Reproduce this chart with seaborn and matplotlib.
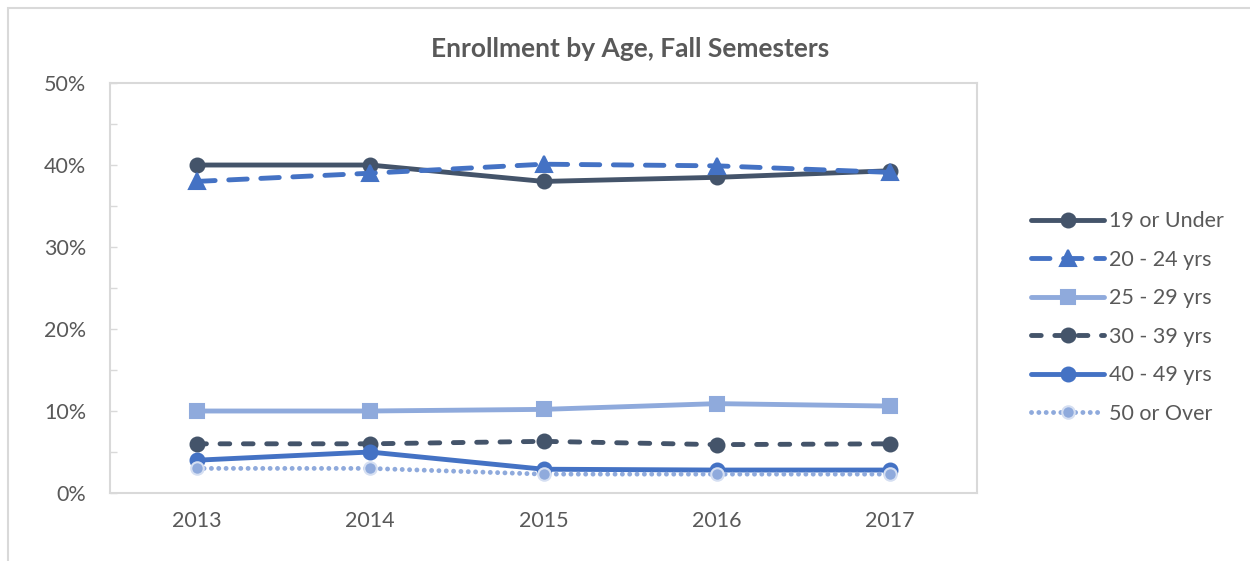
import numpy as np
import pandas as pd
import matplotlib
matplotlib.use('Agg')
import matplotlib.pyplot as plt
import seaborn as sns
from matplotlib.patches import Rectangle
from matplotlib.ticker import MultipleLocator, PercentFormatter

years = [2013, 2014, 2015, 2016, 2017]
age_groups = ['19 or Under', '20 - 24 yrs', '25 - 29 yrs', '30 - 39 yrs', '40 - 49 yrs', '50 or Over']

under_19 = [40.0, 40.0, 38.0, 38.5, 39.3]
age_20_24 = [38.0, 39.0, 40.1, 39.9, 39.1]
age_25_29 = [10.0, 10.0, 10.2, 10.9, 10.6]
age_30_39 = [6.0, 6.0, 6.3, 5.9, 6.0]
age_40_49 = [4.0, 5.0, 2.9, 2.8, 2.8]
over_50 = [3.0, 3.0, 2.3, 2.3, 2.3]

values = [under_19, age_20_24, age_25_29, age_30_39, age_40_49, over_50]

rows = []
for grp, vals in zip(age_groups, values):
    for yr, v in zip(years, vals):
        rows.append([yr, grp, v])
df = pd.DataFrame(rows, columns=['Year', 'Age', 'Pct'])

dark = '#44546A'
blue = '#4472C4'
light = '#8FAADC'
grey_txt = '#595959'

# style per series: colour, marker, marker size, dash pattern, marker edge
styles = {
    '19 or Under': (dark, 'o', 10, '-', dark),
    '20 - 24 yrs': (blue, '^', 11, (0, (3.8, 2.8)), blue),
    '25 - 29 yrs': (light, 's', 10, '-', light),
    '30 - 39 yrs': (dark, 'o', 10, (0, (2.0, 2.8)), dark),
    '40 - 49 yrs': (blue, 'o', 10, '-', blue),
    '50 or Over': (light, 'o', 9, (0, (0.01, 1.5)), '#D5DFF2'),
}

sns.set_style('white')
plt.rcParams['font.family'] = ['Lato', 'DejaVu Sans']

fig = plt.figure(figsize=(12.5, 5.61), dpi=100)
ax = fig.add_axes([0.088, 0.1212, 0.6936, 0.7308])

for grp in age_groups:
    c, m, ms, ls, mec = styles[grp]
    sub = df[df['Age'] == grp]
    sns.lineplot(data=sub, x='Year', y='Pct', ax=ax, color=c, marker=m, markersize=ms,
                 linestyle=ls, linewidth=3.5, markeredgecolor=mec, markeredgewidth=1.5,
                 dash_capstyle='round', solid_capstyle='round', label=grp)

ax.set_xlim(2012.5, 2017.5)
ax.set_ylim(0, 50)
ax.set_xticks(years)
ax.set_xticklabels([str(y) for y in years])
ax.yaxis.set_major_locator(MultipleLocator(10))
ax.yaxis.set_minor_locator(MultipleLocator(5))
ax.yaxis.set_major_formatter(PercentFormatter(decimals=0))
ax.set_xlabel('')
ax.set_ylabel('')

for s in ax.spines.values():
    s.set_color('#D9D9D9')
    s.set_linewidth(1.5)

ax.tick_params(axis='y', which='both', direction='in', length=5, width=1, color='#D9D9D9',
               left=True, labelsize=15.5, labelcolor=grey_txt, pad=17)
ax.tick_params(axis='x', length=0, labelsize=15.5, labelcolor=grey_txt, pad=13)

fig.text(0.504, 0.913, 'Enrollment by Age, Fall Semesters', ha='center', va='center',
         fontsize=19, fontweight='bold', color=grey_txt)

leg = ax.legend(loc='upper left', bbox_to_anchor=(1.04, 0.735), frameon=False,
                handlelength=3.4, fontsize=15.5, labelspacing=0.86, handletextpad=0.2)
for t in leg.get_texts():
    t.set_color(grey_txt)

# outer chart border (top and left visible)
fig.patches.append(Rectangle((0.0064, -0.01), 1.1, 0.996, transform=fig.transFigure,
                             fill=False, edgecolor='#D9D9D9', linewidth=1.5))

fig.savefig('out.png', dpi=100)
